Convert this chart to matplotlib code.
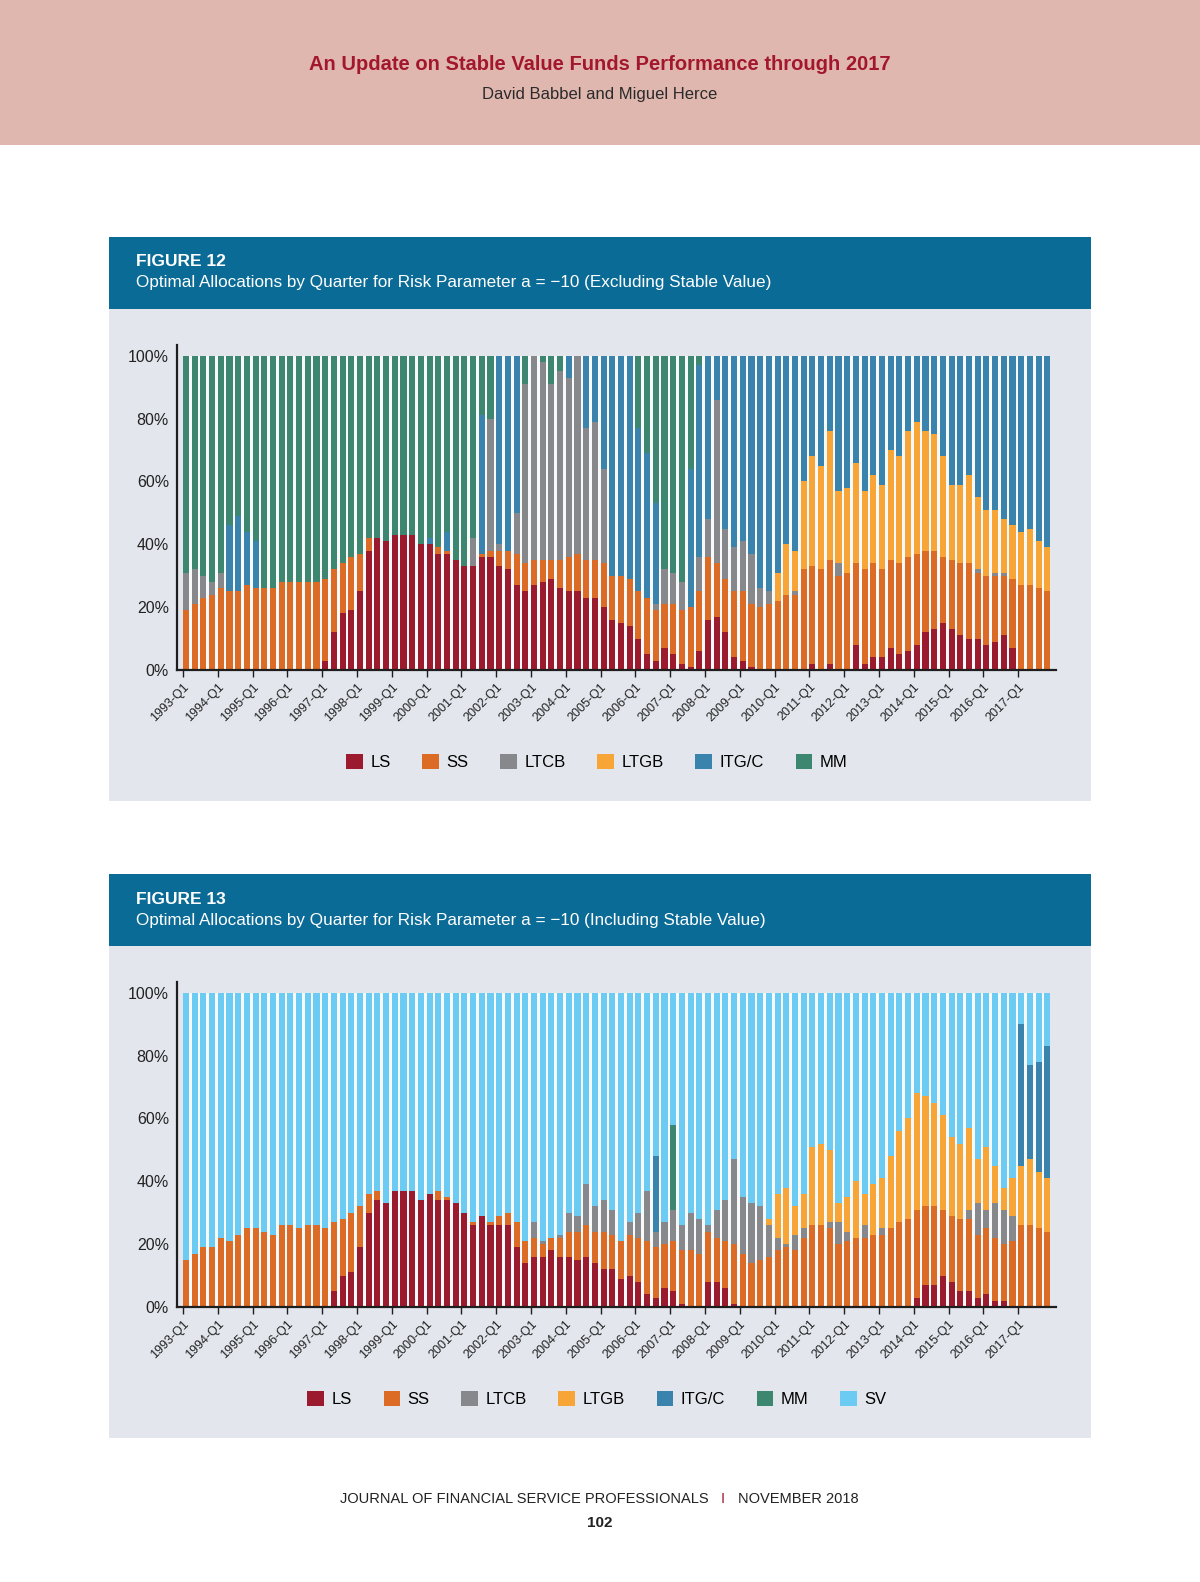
import numpy as np
import matplotlib
matplotlib.use('Agg')
import matplotlib.pyplot as plt
from matplotlib.patches import Rectangle
from matplotlib import font_manager

# fonts
names = {f.name for f in font_manager.fontManager.ttflist}
narrow = 'Liberation Sans Narrow' if 'Liberation Sans Narrow' in names else 'Liberation Sans'
plt.rcParams['font.family'] = ['Liberation Sans', 'DejaVu Sans']

# quarters 1993-Q1 .. 2017-Q4
quarters = [f'{y}-Q{q}' for y in range(1993, 2018) for q in range(1, 5)]
tick_labels = [f'{y}-Q1' for y in range(1993, 2018)]

series_names = ['LS', 'SS', 'LTCB', 'LTGB', 'ITG/C', 'MM', 'SV']
colors = ['#9c1a2e', '#dc6b26', '#87888b', '#f6a536', '#3a83ad', '#3d8670', '#6ccbf2']

# ---- Figure 12 (excluding stable value), percent ----
ls12 = [0, 0, 0, 0, 0, 0, 0, 0, 0, 0,
        0, 0, 0, 0, 0, 0, 3, 12, 18, 19,
        25, 38, 42, 41, 43, 43, 43, 40, 40, 37,
        37, 35, 33, 33, 36, 36, 33, 32, 27, 25,
        27, 28, 29, 26, 25, 25, 23, 23, 20, 16,
        15, 14, 10, 5, 3, 7, 5, 2, 1, 6,
        16, 17, 12, 4, 3, 1, 0, 0, 0, 0,
        0, 0, 2, 0, 2, 0, 0, 8, 2, 4,
        4, 7, 5, 6, 8, 12, 13, 15, 13, 11,
        10, 10, 8, 9, 11, 7, 0, 0, 0, 0]
ss12 = [19, 21, 23, 24, 26, 25, 25, 27, 26, 26,
        26, 28, 28, 28, 28, 28, 26, 20, 16, 17,
        12, 4, 0, 0, 0, 0, 0, 0, 0, 2,
        1, 0, 0, 0, 1, 2, 5, 6, 10, 9,
        8, 7, 6, 9, 11, 12, 12, 12, 14, 14,
        15, 15, 15, 18, 16, 14, 16, 17, 19, 19,
        20, 17, 17, 21, 22, 20, 20, 21, 22, 24,
        24, 32, 31, 32, 33, 30, 31, 26, 30, 30,
        28, 28, 29, 30, 29, 26, 25, 21, 22, 23,
        24, 21, 22, 21, 19, 22, 27, 27, 26, 25]
ltcb12 = [12, 11, 7, 4, 5, 0, 0, 0, 0, 0] + [0] * 20 + \
         [0, 0, 0, 9, 0, 42, 2, 0, 13, 57,
          65, 63, 56, 60, 57, 63, 42, 44, 30, 0,
          0, 0, 0, 0, 2, 11, 10, 9, 0, 11,
          12, 52, 16, 14, 16, 16, 6, 4, 0, 0,
          1, 0, 0, 0, 0, 4, 0, 0, 0, 0] + [0] * 10 + \
         [0, 1, 0, 1, 1, 0, 0, 0, 0, 0]
ltgb12 = [0] * 60 + \
         [0, 0, 0, 0, 0, 0, 0, 0, 9, 16,
          13, 28, 35, 33, 41, 23, 27, 32, 25, 28,
          27, 35, 34, 40, 42, 38, 37, 32, 24, 25,
          28, 23, 21, 20, 17, 17, 17, 18, 15, 14]
itg12 = [0, 0, 0, 0, 0, 21, 24, 17, 15, 0] + [0] * 10 + \
        [0, 0, 0, 0, 0, 0, 0, 0, 2, 0,
         6, 0, 0, 0, 44, 0, 60, 62, 50, 0,
         0, 0, 0, 0, 7, 0, 23, 21, 36, 70,
         70, 71, 52, 46, 32, 0, 0, 0, 44, 61,
         52, 14, 55, 61, 59, 63, 74, 75, 69, 60,
         62, 40, 32, 35, 24, 43, 42, 34, 43, 38,
         41, 30, 32, 24, 21, 24, 25, 32, 41, 41,
         38, 45, 49, 49, 52, 54, 56, 55, 59, 61]
mm12 = [69, 68, 70, 72, 69, 54, 51, 56, 59, 74,
        74, 72, 72, 72, 72, 72, 71, 68, 66, 64,
        63, 58, 58, 59, 57, 57, 57, 60, 58, 61,
        56, 65, 67, 58, 19, 20, 0, 0, 0, 9,
        0, 2, 9, 5, 0, 0, 0, 0, 0, 0,
        0, 0, 23, 31, 47, 68, 69, 72, 36, 3] + [0] * 40

# ---- Figure 13 (including stable value), percent ----
ls13 = [0] * 10 + \
       [0, 0, 0, 0, 0, 0, 0, 5, 10, 11,
        19, 30, 34, 33, 37, 37, 37, 34, 36, 34,
        34, 33, 30, 26, 29, 26, 26, 26, 19, 14,
        16, 16, 18, 16, 16, 15, 16, 14, 12, 12,
        9, 10, 8, 4, 3, 6, 5, 1, 0, 0,
        8, 8, 6, 1, 0, 0, 0, 0, 0, 0] + [0] * 10 + \
       [0, 0, 0, 0, 3, 7, 7, 10, 8, 5,
        5, 3, 4, 2, 2, 0, 0, 0, 0, 0]
ss13 = [15, 17, 19, 19, 22, 21, 23, 25, 25, 24,
        23, 26, 26, 25, 26, 26, 25, 22, 18, 19,
        13, 6, 3, 0, 0, 0, 0, 0, 0, 3,
        1, 0, 0, 1, 0, 1, 3, 4, 8, 7,
        6, 4, 4, 6, 8, 9, 10, 10, 12, 11,
        12, 13, 14, 17, 16, 14, 16, 17, 18, 17,
        16, 14, 15, 19, 17, 14, 15, 16, 18, 19,
        18, 22, 26, 26, 25, 20, 21, 22, 22, 23,
        23, 25, 27, 28, 28, 25, 25, 21, 21, 23,
        23, 20, 21, 20, 18, 21, 26, 26, 25, 24]
ltcb13 = [0] * 40 + \
         [5, 1, 0, 1, 6, 5, 13, 8, 10, 8,
          0, 4, 8, 16, 5, 7, 10, 8, 12, 11,
          2, 9, 13, 27, 18, 19, 17, 10, 4, 1,
          5, 3, 0, 0, 2, 7, 3, 0, 4, 0,
          2, 0, 0, 0, 0, 0, 0, 0, 0, 0,
          3, 10, 6, 11, 11, 8, 0, 0, 0, 0]
ltgb13 = [0] * 60 + \
         [0, 0, 0, 0, 0, 0, 0, 2, 14, 18,
          9, 11, 25, 26, 23, 6, 11, 18, 10, 16,
          16, 23, 29, 32, 37, 35, 33, 30, 25, 24,
          26, 14, 20, 12, 7, 12, 19, 21, 18, 17]
itg13 = [0] * 50 + [0, 0, 0, 0, 24, 0, 0, 0, 0, 0] + [0] * 30 + \
        [0, 0, 0, 0, 0, 0, 45, 30, 35, 42]
mm13 = [0] * 56 + [27] + [0] * 43
sv13 = [85, 83, 81, 81, 78, 79, 77, 75, 75, 76,
        77, 74, 74, 75, 74, 74, 75, 73, 72, 70,
        68, 64, 63, 67, 63, 63, 63, 66, 64, 63,
        65, 67, 70, 73, 71, 73, 71, 70, 73, 79,
        73, 79, 78, 77, 70, 71, 61, 68, 66, 69,
        79, 73, 70, 63, 52, 73, 42, 74, 70, 72,
        74, 69, 66, 53, 65, 67, 68, 72, 64, 62,
        68, 64, 49, 48, 50, 67, 65, 60, 64, 61,
        59, 52, 44, 40, 32, 33, 35, 39, 46, 48,
        43, 53, 49, 55, 62, 59, 10, 23, 22, 17]

W, H = 1200, 1582
fig = plt.figure(figsize=(W / 100, H / 100), dpi=100)
fig.patch.set_facecolor('white')

# page canvas in pixel coords
bg = fig.add_axes([0, 0, 1, 1])
bg.set_xlim(0, W)
bg.set_ylim(H, 0)
bg.axis('off')

bg.add_patch(Rectangle((0, 0), W, 145, color='#dfb7af', lw=0))
bg.text(600, 64, 'An Update on Stable Value Funds Performance through 2017',
        ha='center', va='center', fontsize=14.5, fontweight='bold', color='#a3172d', family=narrow)
bg.text(600, 94, 'David Babbel and Miguel Herce', ha='center', va='center',
        fontsize=12, color='#2a2a2a', family=narrow)

# footer
bg.text(709, 1499, 'JOURNAL OF FINANCIAL SERVICE PROFESSIONALS', ha='right', va='center',
        fontsize=10.5, color='#222222', family=narrow)
bg.text(723, 1499, 'I', ha='center', va='center', fontsize=10.5, color='#a3172d', family=narrow)
bg.text(738, 1499, 'NOVEMBER 2018', ha='left', va='center', fontsize=10.5, color='#222222', family=narrow)
bg.text(600, 1523, '102', ha='center', va='center', fontsize=11, fontweight='bold',
        color='#222222', family=narrow)

PITCH = 8.7
BAR_W = 0.7


def draw_figure(top, number, subtitle, data, names_, cols, legend_y):
    # header box and panel
    bg.add_patch(Rectangle((109, top), 982, 72.5, color='#0b6b97', lw=0))
    bg.add_patch(Rectangle((109, top + 72.5), 982, 492, color='#e3e6ed', lw=0))
    bg.text(136, top + 25.5, f'FIGURE {number}', ha='left', va='center', fontsize=12.5,
            fontweight='bold', color='white')
    bg.text(136, top + 46.5, subtitle, ha='left', va='center', fontsize=12.3, color='white')

    # axes: 0% at top+433.5, spine top at top+108.5
    ax_top = top + 108.5
    ax_bot = top + 433.5
    left = 177.3
    width = 101 * PITCH
    ax = fig.add_axes([left / W, 1 - ax_bot / H, width / W, (ax_bot - ax_top) / H])
    ax.set_facecolor('none')
    x = np.arange(len(quarters))
    # white backing behind the bars
    ax.add_patch(Rectangle((-BAR_W / 2, 0), len(quarters) - 1 + BAR_W, 100,
                           facecolor='#f7f9fb', lw=0, zorder=0))
    bottom = np.zeros(len(quarters))
    handles = []
    for vals, name, c in zip(data, names_, cols):
        vals = np.array(vals, dtype=float)
        b = ax.bar(x, vals, bottom=bottom, width=BAR_W, color=c, lw=0, label=name, zorder=2)
        handles.append(b)
        bottom += vals
    ax.set_xlim(-1.0, 100)
    ax.set_ylim(0, 103.4)
    for s in ['top', 'right']:
        ax.spines[s].set_visible(False)
    for s in ['left', 'bottom']:
        ax.spines[s].set_color('#1e1e1e')
        ax.spines[s].set_linewidth(1.6)
    ax.set_yticks([0, 20, 40, 60, 80, 100])
    ax.set_yticklabels([f'{v}%' for v in [0, 20, 40, 60, 80, 100]])
    ax.tick_params(axis='y', length=0, pad=6, labelsize=11.5, labelcolor='#222222')
    ax.set_xticks(np.arange(0, 100, 4) - BAR_W / 2)
    ax.set_xticklabels(tick_labels, rotation=45, ha='right', va='top',
                       rotation_mode='anchor', fontsize=9, color='#222222')
    ax.tick_params(axis='x', length=5, width=1, color='#1e1e1e', pad=3)

    fig.legend(handles, names_, loc='center', bbox_to_anchor=(597 / W, 1 - legend_y / H),
               ncol=len(names_), frameon=False, fontsize=12, handlelength=1.0,
               handleheight=1.0, handletextpad=0.45, columnspacing=1.9)
    return ax


draw_figure(236.5, 12,
            'Optimal Allocations by Quarter for Risk Parameter a = \u221210 (Excluding Stable Value)',
            [ls12, ss12, ltcb12, ltgb12, itg12, mm12], series_names[:6], colors[:6], 762)
draw_figure(873.5, 13,
            'Optimal Allocations by Quarter for Risk Parameter a = \u221210 (Including Stable Value)',
            [ls13, ss13, ltcb13, ltgb13, itg13, mm13, sv13], series_names, colors, 1399)

fig.savefig('out.png', dpi=100, facecolor='white')
